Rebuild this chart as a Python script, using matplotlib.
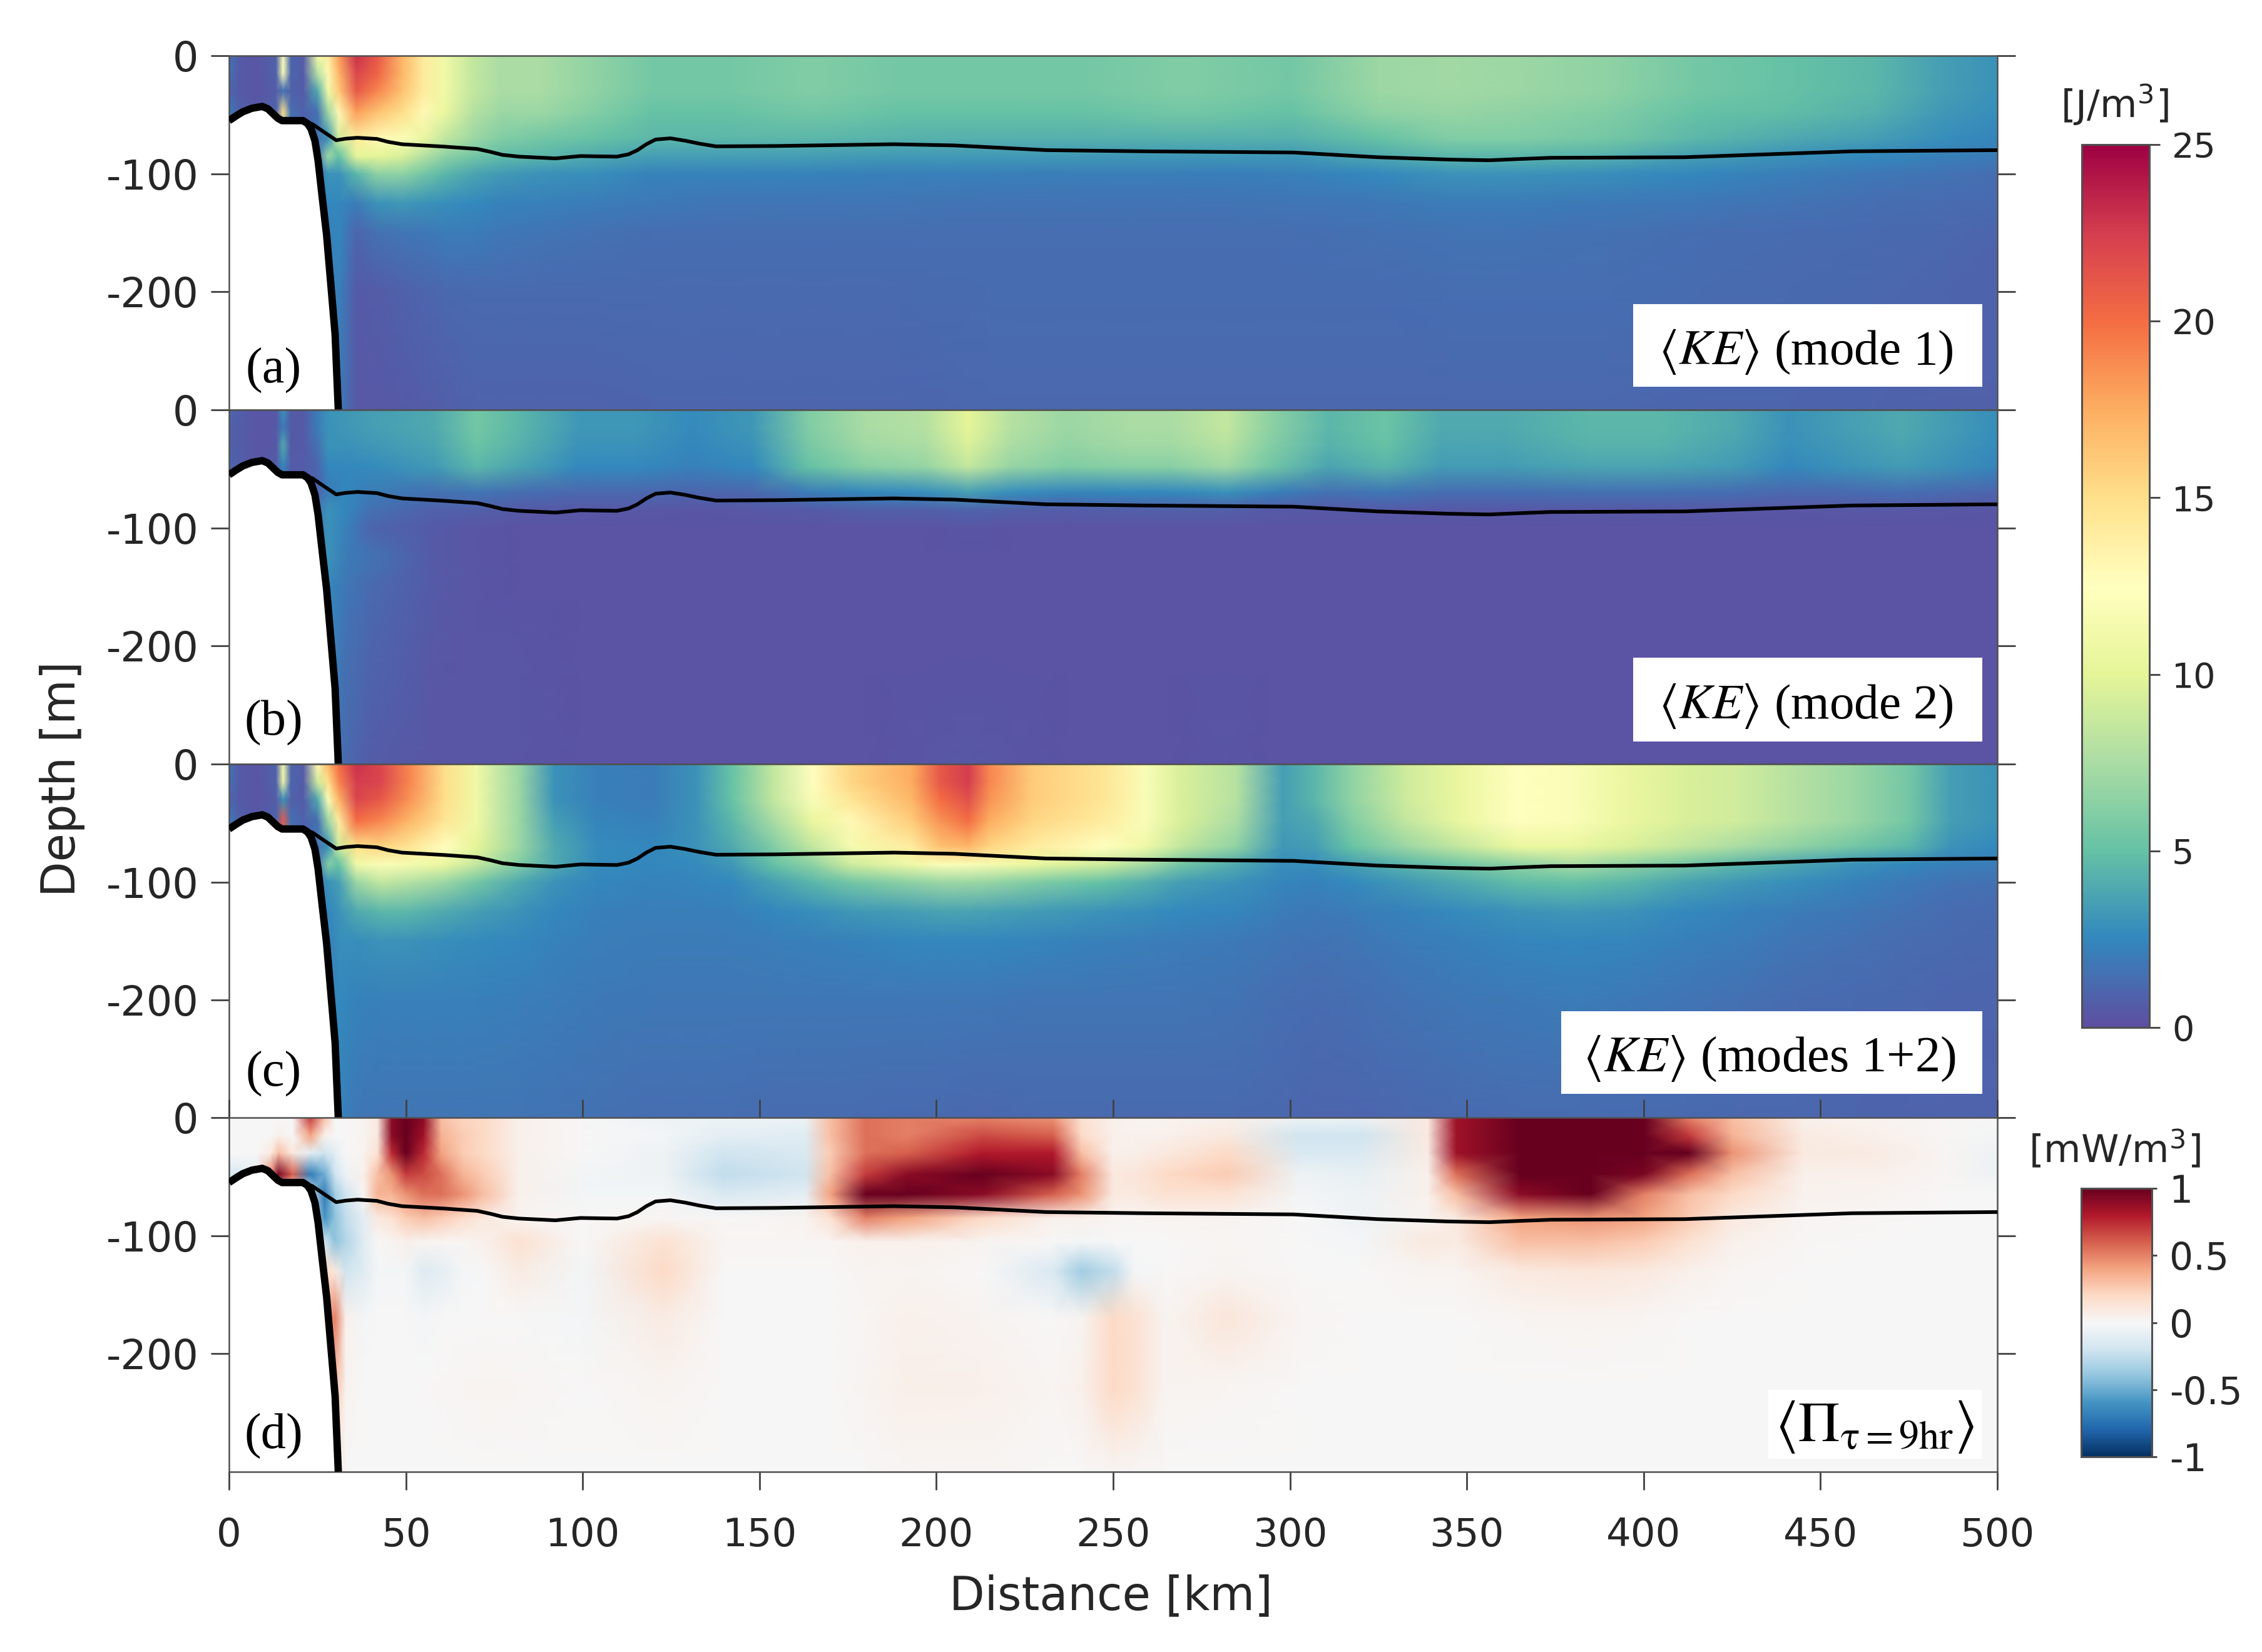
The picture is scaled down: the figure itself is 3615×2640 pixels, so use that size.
import numpy as np
import matplotlib
matplotlib.use('Agg')
import matplotlib.pyplot as plt
from matplotlib.patches import Rectangle
from matplotlib.cm import ScalarMappable
from matplotlib.colors import Normalize

plt.rcParams['axes.unicode_minus'] = False
plt.rcParams['mathtext.fontset'] = 'stix'

W, H = 3615, 2640
INK = '#262626'
SERIF = 'Liberation Serif'

# ---------- data ----------
distance_ticks = [0, 50, 100, 150, 200, 250, 300, 350, 400, 450, 500]
depth_ticks = [0, -100, -200]
ke_ticks = [0, 5, 10, 15, 20, 25]
pi_ticks = [-1, -0.5, 0, 0.5, 1]
pi_tick_labels = ['-1', '-0.5', '0', '0.5', '1']
panel_letters = ['(a)', '(b)', '(c)', '(d)']
panel_titles = [r'$\langle KE\rangle$ (mode 1)', r'$\langle KE\rangle$ (mode 2)',
                r'$\langle KE\rangle$ (modes 1+2)', r'$\langle\Pi_{\mathrm{\tau=9hr}}\rangle$']

bathy_x = [0, 2, 3.9, 6.5, 9.4, 11, 12.6, 13.8, 15, 18, 20.9, 22.2, 23.2, 24.3, 25.2, 26.4, 27.6, 28.8, 30, 30.9]
bathy_z = [-55, -51, -47.5, -44.5, -43, -45, -49.6, -53, -55, -55, -55, -57.5, -62, -72, -89, -121, -152, -194, -236, -300]

ml_x = [20.9, 23.6, 27, 30.3, 33, 36.3, 41.8, 45, 48.9, 60.7, 70.2, 74, 77.3, 82, 92.3, 99.4, 105, 109.7, 113, 115.5,
        118, 120.6, 124.8, 129, 133, 137.7, 154.4, 188, 205, 231, 259, 301, 324.7, 345, 356.4, 365, 373.7, 411.6, 459, 500]
ml_z = [-55, -58, -65, -71.6, -70.3, -69.5, -70.5, -73, -75, -77, -79, -81.5, -84, -85.5, -87, -85, -85.3, -85.5, -83.5, -80,
        -75, -71, -70, -72, -74.5, -76.8, -76.5, -75, -76, -80, -81, -82, -86, -88, -88.6, -87.5, -86.5, -86, -81, -80]

z_ke = [0, -15, -30, -48, -70, -85, -100, -125, -150, -200, -300]
z_pi = [0, -15, -30, -48, -65, -85, -105, -130, -170, -230, -300]

# each row: distance, then the value at each depth of z_ke / z_pi
mode1 = [
 [0,    1.5,1.5,1,2,1,1,1,1,1,1,1],
 [3,    .5,.5,.5,.8,1,1,1,1,1,1,1],
 [8,    .3,.3,.3,.4,1,1,1,1,1,1,1],
 [13.3, .8,.8,.6,1,1,1,1,1,1,1,1],
 [15.3, 12,12,1.5,15,5,1,1,1,1,1,1],
 [17.5, 1,1,.8,1.5,1,1,1,1,1,1,1],
 [21,   .6,.6,.6,.8,1,1,1,1,1,1,1],
 [25,   11,8,4,1.5,1.5,1.5,2,2,2,2,2],
 [28,   14,13,11,7,3,7,3,2.5,2.2,2,2],
 [31,   18,17,16,13,9,5,3,2.5,2.5,2.2,2],
 [36,   23,22,21,18,14,10,4.5,2,1,.5,.4],
 [42,   21,20.5,19,16.5,13,10,6.5,3,1.5,.6,.4],
 [49,   17,17,16.5,15,12,9.5,6.5,3.2,1.7,.8,.5],
 [55,   14,14,14,13,10.5,8,5.5,3,1.8,1,.6],
 [61,   11,11,11,10.5,8.5,6.5,4.5,2.8,2,1.1,.7],
 [69,   8.5,8.5,8.5,8,7,5.5,3.8,2.6,2,1.2,.9],
 [77,   7.5,7.5,7.5,7,6,4.8,3.3,2.3,1.8,1.2,.9],
 [88,   7.5,7.5,7.5,7,5.5,4.5,3,2.2,1.7,1.2,.9],
 [104,  6.5,6.5,6.5,6,5,4,2.8,2,1.5,1.2,.9],
 [120,  5.5,5.5,5.5,5,4.5,3.5,2.3,1.9,1.4,1.2,1],
 [140,  5.5,5.5,5.5,5,4.5,3.5,2.3,1.7,1.4,1.2,1],
 [165,  6,6,6,5.5,4.5,3.5,2.3,1.7,1.4,1.2,1],
 [190,  5.5,5.5,5.5,5,4.3,3.3,2.2,1.7,1.4,1.2,1],
 [215,  5.5,5.5,5.5,5,4.2,3.3,2.2,1.6,1.4,1.3,1.1],
 [240,  5.5,5.5,5.5,5,4.2,3.3,2.1,1.6,1.4,1.3,1.1],
 [270,  6,6,6,5.5,4.3,3.2,2.1,1.6,1.4,1.3,1.1],
 [300,  5.5,5.5,5.5,5,4.2,3.2,2.2,1.7,1.4,1.3,1.1],
 [325,  7,7,7,6.5,5,4,2.6,1.8,1.5,1.3,1.1],
 [345,  7.2,7.2,7.2,6.8,6,4.5,3,2,1.6,1.4,1.1],
 [365,  7,7,7,6.5,6,4.5,3,2,1.6,1.4,1.1],
 [390,  6.5,6.5,6.5,6,5.5,4.2,2.8,1.9,1.5,1.4,1.1],
 [415,  5.5,5.5,5.5,5,4.5,3.5,2.5,1.8,1.4,1.3,1],
 [440,  5,5,5,4.8,4,3,2.1,1.6,1.3,1.2,1],
 [465,  4.5,4.5,4.5,4.2,3.5,2.6,1.8,1.4,1.2,1.1,.9],
 [485,  3.5,3.5,3.5,3.2,2.8,2.2,1.6,1.3,1.1,1,.8],
 [500,  3,3,3,2.8,2.4,2,1.4,1.2,1,.9,.8],
]

mode2 = [
 [0,    1,.8,.8,1,.5,.5,.5,.5,.5,.5,.5],
 [8,    .3,.3,.3,.3,.5,.5,.5,.5,.5,.5,.5],
 [13.3, .4,.4,.4,.6,.5,.5,.5,.5,.5,.5,.5],
 [15.3, 3,2,4,2.5,1,1,1,1,1,1,1],
 [17.5, .5,.5,.5,.6,.5,.5,.5,.5,.5,.5,.5],
 [21,   .5,.5,.5,.6,.5,.5,.5,.5,.5,.5,.5],
 [25,   2,2,1.5,1,1,2,2,2,2,2,2],
 [28,   3,3,3,2.5,2,3,3,3,2.5,2.5,2],
 [33,   3.2,3.2,3,2.5,2.5,2.5,2.2,2,1.8,1.5,1.2],
 [40,   3.5,3.5,3.2,2.7,2,1.5,1,1.6,1.2,1,.6],
 [58,   4,4,3.8,3.3,1.5,.8,.5,.5,.5,.4,.3],
 [70,   5.5,5.5,5.2,4.5,1.7,.7,.3,.3,.3,.3,.3],
 [82,   4.5,4.5,4.3,3.8,1.4,.5,.2,.2,.2,.3,.3],
 [99,   3.2,3.2,3,2.6,1.1,.4,.2,.2,.2,.2,.2],
 [115,  3.2,3.2,3,2.6,1.1,.4,.2,.2,.2,.2,.2],
 [131,  2.7,2.7,2.5,2.2,1,.3,.2,.2,.2,.2,.2],
 [148,  3.2,3.2,3,2.6,1.1,.4,.2,.2,.2,.2,.2],
 [164,  6,6,5.7,5,2,.5,.2,.2,.2,.2,.2],
 [180,  7.5,7.5,7.2,6.3,2.5,.7,.2,.2,.2,.2,.2],
 [197,  8,8,7.6,6.8,2.8,.7,.2,.2,.2,.2,.3],
 [209,  10,10,9.5,8.5,3.5,.9,.3,.2,.2,.2,.4],
 [221,  8,8,7.6,6.8,2.8,.7,.2,.2,.2,.2,.3],
 [237,  7,7,6.7,6,2.4,.6,.2,.2,.2,.2,.2],
 [254,  7.5,7.5,7.2,6.3,2.5,.7,.2,.2,.2,.2,.2],
 [266,  7.5,7.5,7.2,6.3,2.5,.7,.2,.2,.2,.2,.2],
 [282,  8.5,8.5,8.1,7.2,2.9,.7,.2,.2,.2,.2,.3],
 [294,  6.5,6.5,6.2,5.5,2.2,.5,.2,.2,.2,.2,.2],
 [311,  4.5,4.5,4.3,3.8,1.5,.4,.2,.2,.2,.2,.2],
 [327,  5.2,5.2,5,4.4,1.8,.5,.2,.2,.2,.2,.2],
 [343,  4,4,3.8,3.4,1.4,.4,.2,.2,.2,.2,.2],
 [360,  4,4,3.8,3.4,1.4,.4,.2,.2,.2,.2,.2],
 [384,  4.5,4.5,4.3,3.8,1.5,.4,.2,.2,.2,.2,.2],
 [404,  4.5,4.5,4.3,3.8,1.5,.4,.2,.2,.2,.2,.2],
 [425,  4,4,3.8,3.4,1.4,.4,.2,.2,.2,.2,.2],
 [441,  3,3,2.9,2.5,1.1,.3,.2,.2,.2,.2,.2],
 [457,  3.5,3.5,3.3,3,1.2,.4,.2,.2,.2,.2,.2],
 [473,  4,4,3.8,3.4,1.4,.4,.2,.2,.2,.2,.2],
 [500,  2.8,2.8,2.7,2.4,1,.3,.2,.2,.2,.2,.2],
]

modes12 = [
 [0,    1.5,1.5,1,2,1,1,1,1,1,1,1],
 [3,    .5,.5,.5,.8,1,1,1,1,1,1,1],
 [8,    .3,.3,.3,.4,1,1,1,1,1,1,1],
 [13.3, .8,.8,.6,1,1,1,1,1,1,1,1],
 [15.3, 11,11,3,21,5,1,1,1,1,1,1],
 [17.5, 1,1,.8,1.5,1,1,1,1,1,1,1],
 [21,   .6,.6,.6,.8,1,1,1,1,1,1,1],
 [25,   13,9,4,1.5,1.5,1.5,2,2,2,2,2],
 [28,   17,15,12,7,3,6,3,2.5,2.2,2,2],
 [31,   20,19,17,14,9,5,3.5,3,2.8,2.6,2.4],
 [36,   23,22.5,22,20,15,11,7,4,2.8,2.3,1.8],
 [43,   22,22,21,19,15.5,12,8.5,4.5,3,2.2,1.7],
 [51,   19,19,18.5,17,14.5,11.5,8,4.5,3,2.2,1.7],
 [61,   15,15,15,14.5,12.5,10.5,7,4,2.8,2.2,1.7],
 [70,   11,11,11,11,10,8.5,5.5,3.5,2.7,2.2,1.7],
 [82,   7,7,7,7,7,6,4,3,2.5,2.1,1.7],
 [92,   3,3,3,3.5,4,4,3,2.5,2.3,2,1.6],
 [104,  2.2,2.2,2.2,2.4,2.7,2.7,2.5,2.2,2.1,1.9,1.5],
 [120,  2,2,2,2.2,2.5,2.5,2.3,2.1,2,1.8,1.4],
 [132,  3,3,3,3,3,2.7,2.4,2.1,2,1.8,1.4],
 [142,  5,5,5,4.5,4,3.2,2.6,2.2,2,1.8,1.4],
 [154,  8.5,8.5,8.5,7.5,6,5,3.6,2.5,2.1,1.8,1.3],
 [165,  12.5,12.5,12,10.5,8.5,6.5,4.5,2.8,2.2,1.8,1.3],
 [176,  15.5,15.5,14.5,13,11.5,9,5.5,3.2,2.3,1.8,1.3],
 [193,  17.5,17.5,17,16,14,11,6.5,3.5,2.5,1.8,1.2],
 [201,  21,21,20,18.5,16.5,12,7,3.7,2.5,1.8,1.2],
 [209,  22.5,22.5,21.5,20,17,12,7,3.7,2.5,1.8,1.1],
 [215,  19,19,18.5,17.5,15.5,11.5,6.8,3.6,2.5,1.8,1.1],
 [227,  16,16,16,15.5,14,10.5,6,3.4,2.4,1.7,1.2],
 [247,  14.5,14.5,14.5,14,12.5,9,5,3,2.2,1.7,1.2],
 [259,  12,12,12,12,11,7.5,4.2,2.8,2.1,1.7,1.2],
 [269,  9.5,9.5,9.5,9.5,8.5,5.5,3.5,2.6,2,1.7,1.2],
 [285,  8,8,8,7.5,6.5,4,3,2.4,1.9,1.6,1.2],
 [298,  3.5,3.5,3.5,3.5,3.2,2.8,2.4,2,1.7,1.4,1.1],
 [307,  4.5,4.5,4.5,4,3.5,2.8,2.3,1.9,1.6,1.3,1],
 [317,  6.5,6.5,6.5,6,5,3.5,2.6,2,1.7,1.4,1],
 [333,  9,9,9,8.5,7,4.5,3.3,2.3,2,1.6,1.1],
 [348,  10.5,10.5,10.5,10.5,8.5,5.5,4,2.7,2.2,1.8,1.2],
 [364,  12.5,12.5,12.5,12.5,10.5,6.5,4.8,3,2.4,1.9,1.3],
 [380,  12,12,12,12,10.5,7.5,5,3.2,2.5,2,1.3],
 [396,  10.5,10.5,10.5,10.5,9.5,6.5,4.5,3,2.4,1.9,1.2],
 [411,  9.5,9.5,9.5,9.5,8.5,5.5,3.8,2.6,2.2,1.7,1.2],
 [427,  9,9,9,9,7.5,4.5,3.2,2.3,2,1.5,1.1],
 [443,  8,8,8,8,6.5,3.8,2.8,2,1.7,1.3,1.1],
 [459,  7,7,7,7,5.5,3,2.3,1.8,1.5,1.2,1],
 [475,  5.5,5.5,5.5,5.5,4.5,2.5,1.9,1.5,1.3,1.1,.9],
 [487,  3.5,3.5,3.5,3.5,3,2.2,1.6,1.3,1.2,1,.9],
 [500,  3,3,3,3,2.6,2,1.5,1.2,1.1,1,.9],
]

transfer = [
 [0,    0,0,0,-.15,0,0,0,0,0,0,0],
 [8,    0,0,0,-.1,0,0,0,0,0,0,0],
 [12,   0,0,.1,.5,0,0,0,0,0,0,0],
 [14,   0,.05,.3,.95,0,0,0,0,0,0,0],
 [18,   0,0,.1,.6,0,0,0,0,0,0,0],
 [23,   .7,.4,-.1,-.7,-.1,0,0,0,0,0,0],
 [27,   .3,.05,-.2,-.5,-.7,-.6,-.2,.2,.4,.2,0],
 [30,   0,0,-.1,-.2,-.35,-.4,-.4,.1,.5,.3,.05],
 [33,   0,0,0,-.05,-.2,-.25,-.3,-.2,.05,.03,0],
 [38,   .03,.03,.03,.05,.02,-.1,-.12,-.12,-.02,0,0],
 [42,   .1,.1,.15,.3,.35,.1,0,-.03,0,0,0],
 [46,   .9,.9,.75,.45,.35,.15,.03,-.03,0,0,0],
 [50,   1,1,1,.7,.45,.25,.05,-.03,0,0,0],
 [55,   .9,.85,.75,.65,.55,.3,.03,-.13,-.02,0,0],
 [60,   .3,.35,.4,.55,.55,.25,.02,-.1,0,.01,0],
 [66,   .22,.25,.25,.35,.45,.18,.02,-.02,0,.02,0],
 [72,   .2,.2,.2,.25,.3,.1,.05,0,0,.03,0],
 [82,   .05,.05,.05,.05,.05,.03,.15,.08,0,.02,0],
 [100,  0,0,0,-.03,-.03,0,0,-.03,-.02,0,0],
 [123,  -.05,-.03,-.05,-.05,-.02,.02,.15,.2,.08,.03,0],
 [140,  -.05,-.1,-.2,-.25,-.15,0,.02,0,0,0,0],
 [163,  -.05,-.12,-.15,-.2,-.1,.03,.02,0,0,0,0],
 [170,  .3,.3,.25,.3,.4,.15,.02,0,0,0,0],
 [180,  .55,.55,.55,.7,1,.5,.05,.03,.02,.03,0],
 [192,  .5,.5,.6,.9,1,.4,.05,.03,.05,.06,.02],
 [213,  .5,.65,.8,1,.9,.2,.03,0,.03,.05,.02],
 [233,  .45,.6,.8,.9,.6,.05,0,-.15,0,.02,0],
 [241,  .15,.2,.3,.5,.45,.05,-.03,-.35,.03,.05,0],
 [250,  .05,.05,.05,.1,.1,.02,0,-.25,.2,.2,.02],
 [256,  .03,.04,.06,.12,.1,.02,0,-.02,.15,.15,.01],
 [265,  .03,.05,.1,.2,.15,.03,0,0,.03,.03,0],
 [282,  .05,.1,.2,.25,.15,.03,.02,.03,.12,.02,0],
 [303,  -.05,-.2,-.15,-.05,-.03,0,0,0,.02,0,0],
 [320,  -.05,-.2,-.15,-.08,-.05,-.05,-.02,0,0,0,0],
 [339,  .1,.1,.08,.05,.05,.03,.1,.03,0,0,0],
 [347,  .85,.85,.85,.55,.3,.1,.08,.03,0,0,0],
 [365,  1,1,1,1,.9,.4,.3,.1,.02,0,0],
 [385,  1,1,1,1,1,.45,.3,.12,.03,0,0],
 [400,  1,1,1,.95,.5,.4,.25,.1,.02,0,0],
 [413,  .5,.7,1,.55,.3,.25,.15,.05,0,0,0],
 [425,  .3,.35,.45,.3,.2,.1,.05,.02,0,0,0],
 [445,  .05,.08,.1,.05,.04,.02,.01,0,0,0,0],
 [466,  .03,.05,.08,.05,.03,.01,0,0,0,0,0],
 [485,  .01,.01,.02,.02,0,0,0,0,0,0,0],
 [500,  0,-.03,-.05,-.05,0,0,0,0,0,0,0],
]

# ---------- layout (figure pixels) ----------
LEFT, RIGHT = 366, 3192
TOPS = [89, 655, 1221, 1786]
PANEL_H = 566
BOXES = [(2610, 486, 3168, 618), (2610, 1051, 3168, 1185),
         (2495, 1616, 3168, 1748), (2826, 2221, 3167, 2331)]
LETTER_XY = [(437, 592), (437, 1155), (437, 1716), (437, 2295)]
TITLE_XY = [(2886, 562), (2886, 1128), (2828, 1692), (2996, 2280)]
TITLE_FS = [57, 57, 58, 66]


def fx(p):
    return p / W


def fy(p):
    return 1 - p / H


fig = plt.figure(figsize=(W / 100, H / 100), dpi=100, facecolor='white')
fields = [(mode1, z_ke, 'Spectral_r', 0, 25), (mode2, z_ke, 'Spectral_r', 0, 25),
          (modes12, z_ke, 'Spectral_r', 0, 25), (transfer, z_pi, 'RdBu_r', -1, 1)]

for i, (table, zz, cmap, vmin, vmax) in enumerate(fields):
    ax = fig.add_axes([fx(LEFT), fy(TOPS[i] + PANEL_H), (RIGHT - LEFT) / W, PANEL_H / H])
    arr = np.array(table, dtype=float)
    ax.pcolormesh(arr[:, 0], np.array(zz), arr[:, 1:].T, cmap=cmap, vmin=vmin, vmax=vmax,
                  shading='gouraud', rasterized=True, zorder=1)
    ax.fill_between(bathy_x, bathy_z, -300, color='white', lw=0, zorder=2)
    ax.plot(ml_x, ml_z, color='black', lw=4.2, zorder=3, solid_capstyle='butt', solid_joinstyle='round')
    ax.plot(bathy_x, bathy_z, color='black', lw=8.5, zorder=3, solid_capstyle='butt', solid_joinstyle='round')
    ax.set_xlim(0, 500)
    ax.set_ylim(-300, 0)
    ax.set_yticks(depth_ticks)
    ax.set_yticklabels([str(t) for t in depth_ticks])
    ax.tick_params(axis='y', left=True, right=True, length=21, width=2, color='#404040',
                   labelsize=47, labelcolor=INK, pad=14)
    if i == 3:
        ax.set_xticks(distance_ticks)
        ax.set_xticklabels([str(t) for t in distance_ticks])
        ax.tick_params(axis='x', top=True, bottom=True, length=21, width=2, color='#404040',
                       labelsize=45, labelcolor=INK, pad=31)
    else:
        ax.set_xticks([])
    for s in ax.spines.values():
        s.set_color('#505050')
        s.set_linewidth(1.8)
    x0, y0, x1, y1 = BOXES[i]
    fig.add_artist(Rectangle((fx(x0), fy(y1)), (x1 - x0) / W, (y1 - y0) / H, transform=fig.transFigure,
                             facecolor='white', edgecolor='none', zorder=5))
    fig.text(fx(TITLE_XY[i][0]), fy(TITLE_XY[i][1]), panel_titles[i], family=SERIF, fontsize=TITLE_FS[i],
             ha='center', va='center', color='black', zorder=6)
    fig.text(fx(LETTER_XY[i][0]), fy(LETTER_XY[i][1]), panel_letters[i], family=SERIF, fontsize=58,
             ha='center', va='center', color='black', zorder=6)

fig.text(fx(1775), fy(2552), 'Distance [km]', fontsize=53, color=INK, ha='center', va='center')
fig.text(fx(100), fy(1245), 'Depth [m]', fontsize=53, color=INK, ha='center', va='center', rotation=90)

# colour bars
cax1 = fig.add_axes([fx(3327), fy(1642), (3435 - 3327) / W, (1642 - 231) / H])
cb1 = fig.colorbar(ScalarMappable(Normalize(0, 25), 'Spectral_r'), cax=cax1)
cb1.set_ticks(ke_ticks)
cb1.ax.tick_params(labelsize=40, labelcolor=INK, length=12, width=2, color='#404040', pad=14)
cb1.outline.set_edgecolor('#505050')
cb1.outline.set_linewidth(2.2)
fig.text(fx(3380), fy(168), r'[J/m$^{\mathdefault{3}}$]', fontsize=44, color=INK, ha='center', va='center')

cax2 = fig.add_axes([fx(3326), fy(2328), (3439 - 3326) / W, (2328 - 1899) / H])
cb2 = fig.colorbar(ScalarMappable(Normalize(-1, 1), 'RdBu_r'), cax=cax2)
cb2.set_ticks(pi_ticks)
cb2.set_ticklabels(pi_tick_labels)
cb2.ax.tick_params(labelsize=43, labelcolor=INK, length=6, width=2, color='#404040', pad=14)
cb2.outline.set_edgecolor('#505050')
cb2.outline.set_linewidth(2.2)
fig.text(fx(3380), fy(1838), r'[mW/m$^{\mathdefault{3}}$]', fontsize=44, color=INK, ha='center', va='center')

fig.savefig('out.png', dpi=100, facecolor='white')
